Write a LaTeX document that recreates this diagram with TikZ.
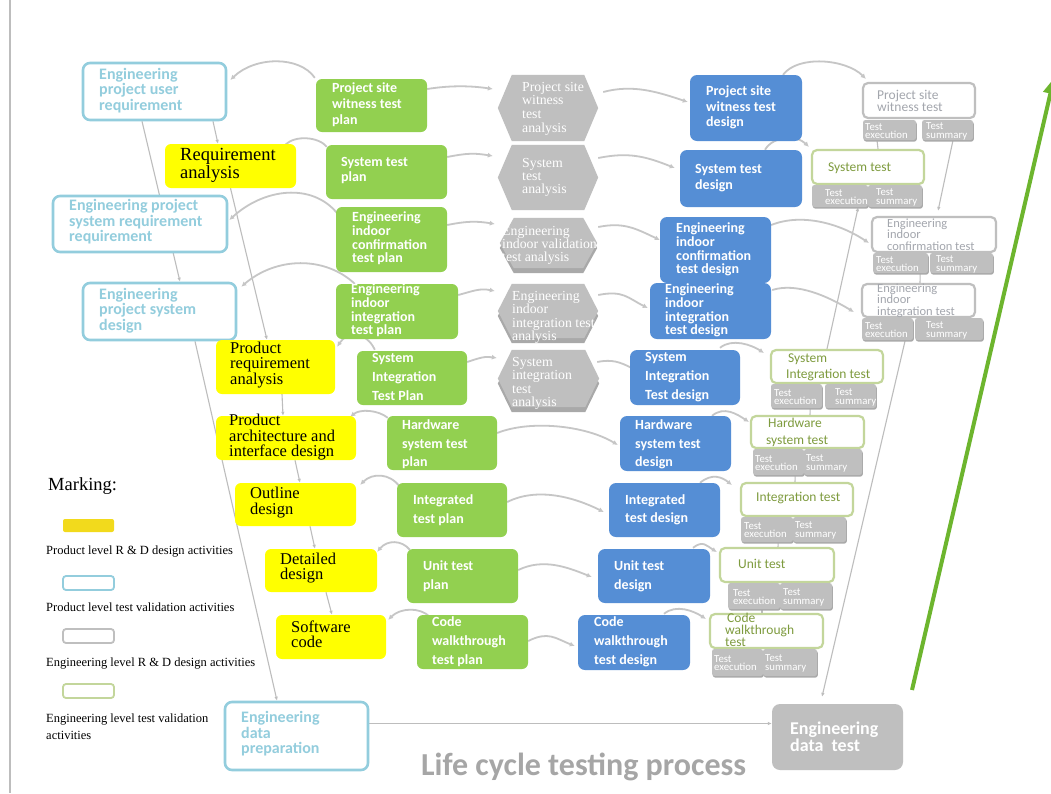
\documentclass[tikz,border=0pt]{standalone}
\usepackage{fontspec}
\setmainfont{Liberation Serif}
\newfontfamily\calfont{Carlito}
\usetikzlibrary{arrows.meta,shadows}
\pgfdeclarelayer{bottom}
\pgfdeclarelayer{background}
\pgfsetlayers{bottom,background,main}
\definecolor{lblue}{HTML}{93CDDD}
\definecolor{yel}{HTML}{FFFF00}
\definecolor{gfill}{HTML}{92D050}
\definecolor{bfill}{HTML}{558ED5}
\definecolor{hexg}{HTML}{BFBFBF}
\definecolor{hexd}{HTML}{A9A9A9}
\definecolor{conn}{HTML}{C6C6C6}
\definecolor{lgray}{HTML}{BDBDBD}
\definecolor{tolive}{HTML}{7E9B3E}
\definecolor{tgreen}{HTML}{C3D69B}
\definecolor{tgrayline}{HTML}{BFBFBF}
\definecolor{tgraytext}{HTML}{A3A6AD}
\definecolor{titlegray}{HTML}{A6A6A6}
\definecolor{bigarrow}{HTML}{6DB52E}
\definecolor{legyel}{HTML}{F2DA1C}
\newcommand{\BX}[6]{%
  \pgfmathsetmacro{\bxw}{#5-#3}%
  \pgfmathsetmacro{\bxh}{#6-#4}%
  \pgfmathsetmacro{\bxcx}{(#3+#5)/2}%
  \pgfmathsetmacro{\bxcy}{(#4+#6)/2}%
  \node[#1, minimum width=\bxw pt, minimum height=\bxh pt, inner sep=0pt] (#2) at (\bxcx,\bxcy) {};}
\newcommand{\TX}[5]{\node[#1, anchor=west, align=left, inner sep=0pt] (#2) at (#3,#4) {#5};}
\newcommand{\HX}[6]{%
  \BX{}{#1}{#2}{#3}{#4}{#5}%
  \ifnum#6=1 \fill[hexd] ([yshift=-5pt]#1.west) -- ([xshift=14pt,yshift=-5pt]#1.north west) -- ([xshift=-14pt,yshift=-5pt]#1.north east) -- ([yshift=-5pt]#1.east) -- ([xshift=-14pt,yshift=-5pt]#1.south east) -- ([xshift=14pt,yshift=-5pt]#1.south west) -- cycle;\fi
  \fill[hexg] (#1.west) -- ([xshift=14pt]#1.north west) -- ([xshift=-14pt]#1.north east) -- (#1.east) -- ([xshift=-14pt]#1.south east) -- ([xshift=14pt]#1.south west) -- cycle;}
\tikzset{
 lbbox/.style={draw=lblue, line width=2.6pt, fill=white, rounded corners=7pt},
 ybox/.style={fill=yel, rounded corners=6pt},
 gbox/.style={fill=gfill, rounded corners=6pt},
 bbox/.style={fill=bfill, rounded corners=7pt},
 tgbox/.style={draw=tgreen, line width=2.2pt, fill=white, rounded corners=5pt},
 tybox/.style={draw=tgrayline, line width=2.2pt, fill=white, rounded corners=5pt},
 subbox/.style={fill=hexg, rounded corners=2.5pt, drop shadow={shadow xshift=0.8pt, shadow yshift=-1.6pt, fill=hexd, opacity=1}},
 dtbox/.style={fill=hexg, rounded corners=8pt},
 lbt/.style={text=lblue, font=\calfont\bfseries\fontsize{16}{15.5}\selectfont},
 yt/.style={text=black, font=\fontsize{16.5}{15.5}\selectfont},
 wt/.style={text=white, font=\calfont\bfseries\fontsize{14}{#1}\selectfont},
 ht/.style={text=white, font=\fontsize{13.8}{#1}\selectfont},
 tt/.style={font=\calfont\fontsize{13.5}{#1}\selectfont},
 ttsmall/.style={font=\calfont\fontsize{12.5}{11.5}\selectfont},
 st/.style={text=white, font=\calfont\fontsize{10.8}{8.8}\selectfont},
 legt/.style={font=\fontsize{12.5}{17}\selectfont},
 carc/.style={draw=conn, line width=1.8pt, -{Latex[length=5pt,width=5pt]}},
 carcn/.style={draw=conn, line width=1.8pt},
 thinl/.style={draw=lgray, line width=1.1pt, -{Latex[length=4pt,width=3.5pt]}},
 thinn/.style={draw=lgray, line width=1.1pt},
}
\begin{document}
\begin{tikzpicture}[x=1pt,y=-1pt]
\useasboundingbox (0,0) rectangle (1051,793);
\begin{pgfonlayer}{bottom}
\fill[white] (0,0) rectangle (1051,793);
\end{pgfonlayer}
% left border
\coordinate (bl1) at (10,0);
\coordinate (bl2) at (10,793);
\draw[lgray, line width=1.6pt] (bl1) -- (bl2);

% light blue boxes
\BX{lbbox}{lb1}{83}{63}{226}{120}
\BX{lbbox}{lb2}{53}{196}{227}{252}
\BX{lbbox}{lb3}{83}{283}{236}{340}
\BX{lbbox}{lb4}{225}{702}{368}{770}
\TX{lbt}{lb1t}{99}{90.5}{Engineering\\project user\\requirement}
\TX{lbt}{lb2t}{69}{222}{Engineering project\\system requirement\\requirement}
\TX{lbt}{lb3t}{99}{310.5}{Engineering\\project system\\design}
\TX{lbt}{lb4t}{241}{734}{Engineering\\data\\preparation}

% yellow boxes
\BX{ybox}{ya1}{165}{144}{296}{188}
\BX{ybox}{ya2}{216}{340}{335}{394}
\BX{ybox}{ya3}{216}{416}{356}{460}
\BX{ybox}{ya4}{235}{483}{356}{526}
\BX{ybox}{ya5}{265}{549}{377}{592}
\BX{ybox}{ya6}{276}{615}{386}{659}
\TX{yt, font=\fontsize{18.5}{16}\selectfont}{ya1t}{180}{165}{Requirement\\analysis}
\TX{yt}{ya2t}{230}{365}{Product\\requirement\\analysis}
\TX{yt}{ya3t}{229}{437.5}{Product\\architecture and\\interface design}
\TX{yt}{ya4t}{250}{502.5}{Outline\\design}
\TX{yt}{ya5t}{280}{568}{Detailed\\design}
\TX{yt}{ya6t}{291}{634.5}{Software\\code}

% green boxes
\BX{gbox}{g1}{316}{79}{427}{132}
\BX{gbox}{g2}{326}{145}{447}{199}
\BX{gbox}{g3}{336}{207}{447}{272}
\BX{gbox}{g4}{336}{284}{458}{339}
\BX{gbox}{g5}{357}{351}{467}{405}
\BX{gbox}{g6}{387}{416}{497}{470}
\BX{gbox}{g7}{397}{483}{507}{537}
\BX{gbox}{g8}{407}{549}{518}{603}
\BX{gbox}{g9}{417}{615}{528}{669}
\TX{wt=16}{g1t}{332}{104.5}{Project site\\witness test\\plan}
\TX{wt=15}{g2t}{341}{170.5}{System test\\plan}
\TX{wt=13.7}{g3t}{352}{238.5}{Engineering\\indoor\\confirmation\\test plan}
\TX{wt=13.7}{g4t}{351}{310.5}{Engineering\\indoor\\integration\\test plan}
\TX{wt=19}{g5t}{372}{377}{System\\Integration\\Test Plan}
\TX{wt=18.5}{g6t}{402}{444.5}{Hardware\\system test\\plan}
\TX{wt=18.5}{g7t}{413}{510}{Integrated\\test plan}
\TX{wt=19}{g8t}{423}{576.5}{Unit test\\plan}
\TX{wt=19}{g9t}{432}{642}{Code\\walkthrough\\test plan}

% hexagons
\HX{h1}{498}{75}{598}{141}{0}
\HX{h2}{498}{145}{598}{210}{0}
\HX{h3}{500}{218}{597}{268}{1}
\HX{h4}{498}{284}{598}{338}{1}
\HX{h5}{498}{350}{599}{407}{1}
\TX{ht=13.7}{h1t}{522}{108.5}{Project site\\witness\\test\\analysis}
\TX{ht=13}{h2t}{522}{177.5}{System\\test\\analysis}
\TX{ht=13}{h3t}{502}{245}{Engineering\\indoor validation\\test analysis}
\TX{ht=13.5}{h4t}{512}{317.5}{Engineering\\indoor\\integration test\\analysis}
\TX{ht=13.5}{h5t}{512}{383.5}{System\\integration\\test\\analysis}

% blue boxes
\BX{bbox}{b1}{690}{75}{802}{141}
\BX{bbox}{b2}{680}{150}{802}{207}
\BX{bbox}{b3}{660}{217}{771}{283}
\BX{bbox}{b4}{650}{283}{771}{339}
\BX{bbox}{b5}{630}{350}{740}{405}
\BX{bbox}{b6}{620}{416}{731}{471}
\BX{bbox}{b7}{609}{483}{720}{537}
\BX{bbox}{b8}{598}{549}{710}{603}
\BX{bbox}{b9}{578}{615}{690}{670}
\TX{wt=15.5}{b1t}{706}{107.5}{Project site\\witness test\\design}
\TX{wt=15.5}{b2t}{695}{178}{System test\\design}
\TX{wt=13.7}{b3t}{676}{249.5}{Engineering\\indoor\\confirmation\\test design}
\TX{wt=13.7}{b4t}{665}{310.5}{Engineering\\indoor\\integration\\test design}
\TX{wt=19}{b5t}{645}{377}{System\\Integration\\Test design}
\TX{wt=18.5}{b6t}{635}{444.5}{Hardware\\system test\\design}
\TX{wt=18.5}{b7t}{625}{510}{Integrated\\test design}
\TX{wt=19}{b8t}{614}{576.5}{Unit test\\design}
\TX{wt=19}{b9t}{594}{642}{Code\\walkthrough\\test design}

% test boxes
\BX{tybox}{t1}{863}{83}{975}{118}
\BX{tgbox}{t2}{812}{150}{924}{184}
\BX{tybox}{t3}{872}{217}{996}{252}
\BX{tybox}{t4}{862}{284}{975}{317}
\BX{tgbox}{t5}{771}{350}{883}{383}
\BX{tgbox}{t6}{751}{416}{864}{448}
\BX{tgbox}{t7}{741}{483}{853}{516}
\BX{tgbox}{t8}{720}{548}{834}{582}
\BX{tgbox}{t9}{710}{614}{823}{648}
\TX{tt=12, text=tgraytext}{t1t}{877}{101}{Project site\\witness test}
\TX{tt=12, text=tolive}{t2t}{828}{168}{System test}
\TX{ttsmall, text=tgraytext}{t3t}{887}{234.5}{Engineering\\indoor\\confirmation test}
\TX{ttsmall, text=tgraytext}{t4t}{877}{300.5}{Engineering\\indoor\\integration test}
\TX{tt=16, text=tolive}{t5t}{786}{367}{\hspace*{2pt}System\\Integration test}
\TX{tt=17, text=tolive}{t6t}{766}{432.5}{\hspace*{2pt}Hardware\\system test}
\TX{tt=12, text=tolive}{t7t}{756}{498}{Integration test}
\TX{tt=12, text=tolive}{t8t}{738}{564}{Unit test}
\TX{tt=12, text=tolive}{t9t}{725}{630}{\hspace*{2pt}Code\\walkthrough\\test}

% sub boxes
\BX{subbox}{te1}{863}{120}{916}{140} \BX{subbox}{ts1}{922}{120}{973}{140}
\BX{subbox}{te2}{812}{185}{868}{207} \BX{subbox}{ts2}{868}{185}{922}{207}
\BX{subbox}{te3}{873}{253}{928}{273} \BX{subbox}{ts3}{930}{253}{993}{273}
\BX{subbox}{te4}{862}{318}{913}{340} \BX{subbox}{ts4}{915}{318}{983}{340}
\BX{subbox}{te5}{771}{384}{822}{408} \BX{subbox}{ts5}{825}{384}{876}{408}
\BX{subbox}{te6}{753}{449}{804}{475} \BX{subbox}{ts6}{804}{449}{862}{475}
\BX{subbox}{te7}{741}{517}{793}{542} \BX{subbox}{ts7}{793}{517}{846}{542}
\BX{subbox}{te8}{728}{583}{780}{609} \BX{subbox}{ts8}{780}{583}{832}{609}
\BX{subbox}{te9}{712}{649}{763}{676} \BX{subbox}{ts9}{763}{649}{817}{676}
\TX{st}{te1t}{865}{131}{Test\\execution} \TX{st}{ts1t}{926}{131}{Test\\summary}
\TX{st}{te2t}{825}{197}{Test\\execution} \TX{st}{ts2t}{876}{197}{Test\\summary}
\TX{st}{te3t}{876}{264}{Test\\execution} \TX{st}{ts3t}{936}{264}{Test\\summary}
\TX{st}{te4t}{865}{330}{Test\\execution} \TX{st}{ts4t}{926}{330}{Test\\summary}
\TX{st}{te5t}{774}{397}{Test\\execution} \TX{st}{ts5t}{835}{397}{Test\\summary}
\TX{st}{te6t}{755}{463}{Test\\execution} \TX{st}{ts6t}{806}{463}{Test\\summary}
\TX{st}{te7t}{744}{530}{Test\\execution} \TX{st}{ts7t}{795}{530}{Test\\summary}
\TX{st}{te8t}{733}{597}{Test\\execution} \TX{st}{ts8t}{783}{597}{Test\\summary}
\TX{st}{te9t}{714}{663}{Test\\execution} \TX{st}{ts9t}{765}{663}{Test\\summary}

% data test
\BX{dtbox}{dt}{772}{704}{903}{770}
\TX{font=\calfont\bfseries\fontsize{18}{17}\selectfont, text=white}{dtt}{790}{736.5}{Engineering\\data\ \ test}

% connectors (behind)
\begin{pgfonlayer}{background}
\draw[thinl] ([xshift=-12.5pt]lb1.south) -- ([xshift=20.5pt]lb3.north);
\draw[thinl] ([xshift=58.5pt]lb1.south) -- ([xshift=-12.5pt]ya1.north);
\draw[thinl] (ya1.south) -- ([xshift=-8.5pt]ya2.north);
\draw[thinl] ([xshift=35.5pt]lb3.south) -- ([xshift=-19.5pt]lb4.north);
\draw[thinl] ([xshift=6.5pt]ya2.south) -- ([xshift=-3pt]ya3.north);
\draw[thinl] ([xshift=9pt]ya3.south) -- ([xshift=4.5pt]ya4.north);
\draw[thinl] ([xshift=14.5pt]ya4.south) -- ([xshift=-6pt]ya5.north);
\draw[thinl] ([xshift=5pt]ya5.south) -- ([xshift=1pt]ya6.north);
\draw[thinl] ([xshift=-8pt]te4.south east) -- ([xshift=-15.5pt,yshift=7pt]dt.north);
\draw[thinl] ([xshift=5.5pt]ts1.south) -- ([xshift=4pt,yshift=5pt]t3.north);
\draw[thinl] (t5.north) -- ([xshift=-10pt]te2.south east);
\draw[thinn] ([xshift=10pt]t2.north) -- ([xshift=-12.5pt]te1.south);
\draw[thinn] ([xshift=-8pt]te3.south east) -- ([xshift=1.5pt]t4.north);
\draw[thinn] ([xshift=-12pt]te5.south east) -- ([xshift=2.5pt]t6.north);
\draw[thinn] ([xshift=-9pt]te6.south east) -- ([xshift=-2pt]t7.north);
\draw[thinn] ([xshift=-15pt]te7.south east) -- ([xshift=1pt]t8.north);
\draw[thinn] ([xshift=8pt]te8.south) -- ([xshift=-4.5pt]t9.north);
\draw[thinl, line width=1.4pt] ([yshift=12.5pt]lb4.east) -- ([yshift=13.5pt]dt.west);
% green to left
\draw[carc] ([xshift=-1pt,yshift=1pt]g1.north west) .. controls +(-15,-22) and +(25,-24) .. ([xshift=3pt,yshift=11.5pt]lb1.east);
\draw[carcn] ([xshift=1pt,yshift=-2pt]g2.north west) .. controls +(-8,-10) and +(10,-10) .. ([xshift=-11pt,yshift=-1pt]ya1.north east);
\draw[carc] ([xshift=1pt,yshift=-6pt]g3.north west) .. controls +(-25,-30) and +(35,-32) .. ([xshift=1pt,yshift=4pt]lb2.east);
\draw[carc] ([xshift=19pt]g4.north west) .. controls +(-30,-28) and +(35,-30) .. ([xshift=4pt,yshift=-5pt]lb3.north east);
\draw[carc] ([xshift=18pt,yshift=1pt]g5.north west) .. controls +(-8,-18) and +(10,-16) .. ([xshift=2pt,yshift=-7pt]ya2.north east);
\draw[carc] ([xshift=1pt,yshift=-2pt]g6.north west) .. controls +(-10,-8) and +(10,-8) .. ([xshift=-6pt,yshift=-1pt]ya3.north east);
\draw[carc] ([xshift=3pt,yshift=-4pt]g7.north west) .. controls +(-10,-14) and +(12,-12) .. ([xshift=4pt,yshift=-2pt]ya4.north east);
\draw[carc] ([xshift=3pt,yshift=-1pt]g8.north west) .. controls +(-8,-10) and +(10,-12) .. ([yshift=-3pt]ya5.north east);
\draw[carc] ([xshift=13pt,yshift=-2pt]g9.north west) .. controls +(-10,-10) and +(12,-12) .. ([xshift=2pt,yshift=-5pt]ya6.north east);
% green to hex / blue
\draw[carc] ([yshift=16.5pt]g1.east) .. controls +(25,-4) and +(-20,-3) .. ([xshift=-5pt,yshift=19pt]h1.west);
\draw[carc] ([yshift=15pt]g2.east) .. controls +(20,-4) and +(-18,-3) .. ([xshift=-5pt,yshift=21.5pt]h2.west);
\draw[carc] ([yshift=14.5pt]g3.east) .. controls +(20,-4) and +(-18,-3) .. ([xshift=-5pt,yshift=19pt]h3.west);
\draw[carc] ([yshift=16.5pt]g4.east) .. controls +(15,-4) and +(-15,-3) .. ([xshift=-3pt,yshift=20pt]h4.west);
\draw[carc] ([yshift=16pt]g5.east) .. controls +(12,-4) and +(-12,-2) .. ([xshift=-1pt,yshift=20.5pt]h5.west);
\draw[carc] ([yshift=10pt]g6.east) .. controls +(32,-13) and +(-33,-20) .. ([xshift=-2pt,yshift=-1.5pt]b6.west);
\draw[carc] ([yshift=8pt]g7.east) .. controls +(30,-15) and +(-30,-15) .. ([xshift=-5pt,yshift=-2pt]b7.west);
\draw[carc] ([yshift=6pt]g8.east) .. controls +(25,-12) and +(-25,-10) .. ([xshift=-6pt,yshift=-1pt]b8.west);
\draw[carc] ([yshift=1pt]g9.east) .. controls +(20,-10) and +(-20,-8) .. ([xshift=-3pt,yshift=-3.5pt]b9.west);
% hex to blue
\draw[carc] ([xshift=5pt,yshift=16pt]h1.east) .. controls +(30,-8) and +(-30,-10) .. ([xshift=-2pt,yshift=6pt]b1.west);
\draw[carc] ([yshift=19.5pt]h2.east) .. controls +(30,-6) and +(-30,-12) .. ([xshift=-5pt,yshift=10.5pt]b2.west);
\draw[carc] ([xshift=1pt,yshift=16pt]h3.east) .. controls +(25,-5) and +(-25,-12) .. ([yshift=10pt]b3.west);
\draw[carc] ([yshift=16pt]h4.east) .. controls +(25,-5) and +(-20,-10) .. ([xshift=-2pt,yshift=3pt]b4.west);
\draw[carcn] ([xshift=-2pt,yshift=16.5pt]h5.east) .. controls +(15,-3) and +(-12,-6) .. ([xshift=2pt,yshift=9.5pt]b5.west);
% blue to test
\draw[carc] ([xshift=37pt]b1.north) .. controls +(15,-20) and +(-20,-20) .. ([xshift=4pt,yshift=3pt]t1.north west);
\draw[carc] ([xshift=24pt]b2.north) .. controls +(8,-14) and +(-12,-12) .. ([xshift=-2pt,yshift=2pt]t2.north west);
\draw[carc] ([yshift=25pt]b3.east) .. controls +(30,-12) and +(-30,-20) .. ([xshift=-2pt,yshift=-8.5pt]t3.west);
\draw[carc] ([xshift=1pt,yshift=21pt]b4.east) .. controls +(25,-8) and +(-25,-15) .. ([xshift=-7pt,yshift=-11.5pt]t4.west);
\draw[carc] ([xshift=35pt,yshift=2pt]b5.north) .. controls +(12,-10) and +(-12,-8) .. ([xshift=-6pt,yshift=13.5pt]t5.west);
\draw[carc] ([xshift=36.5pt]b6.north) .. controls +(12,-10) and +(-12,-8) .. ([xshift=-1pt,yshift=10pt]t6.west);
\draw[carc] ([xshift=35.5pt]b7.north) .. controls +(12,-10) and +(-10,-8) .. ([xshift=-8pt,yshift=14.5pt]t7.west);
\draw[carc] ([xshift=39pt,yshift=1pt]b8.north) .. controls +(10,-8) and +(-10,-6) .. ([xshift=-2pt,yshift=13pt]t8.west);
\draw[carc] ([xshift=30pt,yshift=1pt]b9.north) .. controls +(12,-10) and +(-12,-8) .. ([xshift=-3pt,yshift=12pt]t9.west);
\end{pgfonlayer}

% big green arrow
\coordinate (ga) at (912,690);
\coordinate (gb) at (1054,78);
\draw[bigarrow, line width=4pt, -{Triangle[length=16pt,width=14pt]}] (ga) -- (gb);

% legend
\TX{font=\fontsize{18.5}{20}\selectfont}{mk}{48}{486}{Marking:}
\BX{fill=legyel, rounded corners=2pt}{sw1}{63}{519}{114}{532}
\TX{legt}{lg1}{46}{552}{Product level R \& D design activities}
\BX{draw=lblue, line width=1.8pt, fill=white, rounded corners=3pt}{sw2}{63}{576}{114}{590}
\TX{legt}{lg2}{46}{607}{Product level test validation activities}
\BX{draw=tgrayline, line width=1.8pt, fill=white, rounded corners=3pt}{sw3}{63}{629}{114}{643}
\TX{legt}{lg3}{46}{663}{Engineering level R \& D design activities}
\BX{draw=tgreen, line width=1.8pt, fill=white, rounded corners=3pt}{sw4}{63}{684}{114}{698}
\TX{legt}{lg4}{46}{726.5}{Engineering level test validation\\activities}

% title
\node[font=\calfont\bfseries\fontsize{32}{34}\selectfont, text=titlegray, anchor=base west, inner sep=0pt] (title) at (421,775) {Life cycle testing process};
\end{tikzpicture}
\end{document}
